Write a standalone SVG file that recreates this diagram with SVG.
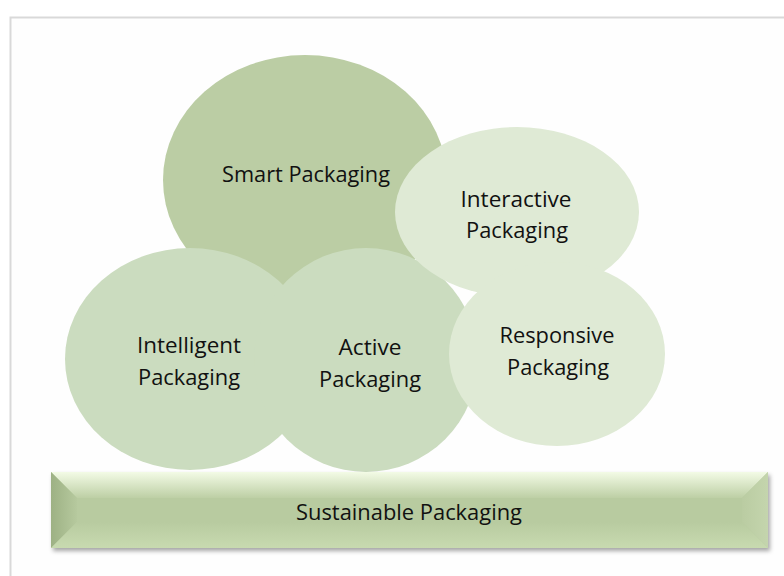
<svg xmlns="http://www.w3.org/2000/svg" width="784" height="576" viewBox="0 0 784 576">
<defs>
<style>
.lbl{font-family:"Open Sans","Liberation Sans",sans-serif;font-size:22px;fill:#111;text-anchor:middle}
.c1{fill:#BBCDA4}
.c2{fill:#CBDCBF}
.c3{fill:#DFEAD5}
</style>
<linearGradient id="topG" x1="0" y1="0" x2="0" y2="1">
<stop offset="0" stop-color="#F3FBE6"/>
<stop offset="1" stop-color="#BDCFA5"/>
</linearGradient>
<linearGradient id="leftG" x1="0" y1="0" x2="1" y2="0">
<stop offset="0" stop-color="#9DB184"/>
<stop offset="1" stop-color="#B6C99E"/>
</linearGradient>
<linearGradient id="rightG" x1="0" y1="0" x2="1" y2="0">
<stop offset="0" stop-color="#BACCA2"/>
<stop offset="1" stop-color="#C4D5AD"/>
</linearGradient>
<linearGradient id="botG" x1="0" y1="0" x2="0" y2="1">
<stop offset="0" stop-color="#B8CBA0"/>
<stop offset="1" stop-color="#C8DAB0"/>
</linearGradient>
<filter id="sh" x="-5%" y="-20%" width="110%" height="150%">
<feDropShadow dx="2" dy="3" stdDeviation="2" flood-color="#000" flood-opacity="0.35"/>
</filter>
</defs>
<rect x="0" y="0" width="784" height="576" fill="#fff"/>
<rect x="10.5" y="17.5" width="800" height="600" fill="#fefefe" stroke="#d9d9d9" stroke-width="2"/>

<g id="smart">
<ellipse class="c1" cx="305" cy="180" rx="142" ry="125"/>
<text class="lbl" x="306" y="182" textLength="168" lengthAdjust="spacingAndGlyphs">Smart Packaging</text>
</g>
<g id="intelligent">
<ellipse class="c2" cx="190" cy="359" rx="125" ry="111"/>
<text class="lbl" x="189" y="353" textLength="104" lengthAdjust="spacingAndGlyphs">Intelligent</text>
<text class="lbl" x="189" y="385" textLength="102" lengthAdjust="spacingAndGlyphs">Packaging</text>
</g>
<g id="active">
<ellipse class="c2" cx="366" cy="360" rx="112" ry="112"/>
<text class="lbl" x="370" y="355" textLength="63" lengthAdjust="spacingAndGlyphs">Active</text>
<text class="lbl" x="370" y="387" textLength="102" lengthAdjust="spacingAndGlyphs">Packaging</text>
</g>
<g id="interactive">
<ellipse class="c3" cx="517" cy="212" rx="122" ry="85"/>
<text class="lbl" x="516" y="207" textLength="111" lengthAdjust="spacingAndGlyphs">Interactive</text>
<text class="lbl" x="517" y="238" textLength="102" lengthAdjust="spacingAndGlyphs">Packaging</text>
</g>
<g id="responsive">
<ellipse class="c3" cx="557" cy="354" rx="108" ry="92"/>
<text class="lbl" x="557" y="343" textLength="115" lengthAdjust="spacingAndGlyphs">Responsive</text>
<text class="lbl" x="558" y="375" textLength="102" lengthAdjust="spacingAndGlyphs">Packaging</text>
</g>

<g id="sustainable">
<g filter="url(#sh)">
<rect x="51" y="472" width="717" height="76" fill="#B8CBA0"/>
<polygon points="51,472 768,472 742,498 77,498" fill="url(#topG)"/>
<polygon points="51,472 77,498 77,522 51,548" fill="url(#leftG)"/>
<polygon points="768,472 742,498 742,522 768,548" fill="url(#rightG)"/>
<polygon points="51,548 77,522 742,522 768,548" fill="url(#botG)"/>
</g>
<text class="lbl" x="409" y="520" textLength="226" lengthAdjust="spacingAndGlyphs">Sustainable Packaging</text>
</g>
<g id="connectors"/>
</svg>
